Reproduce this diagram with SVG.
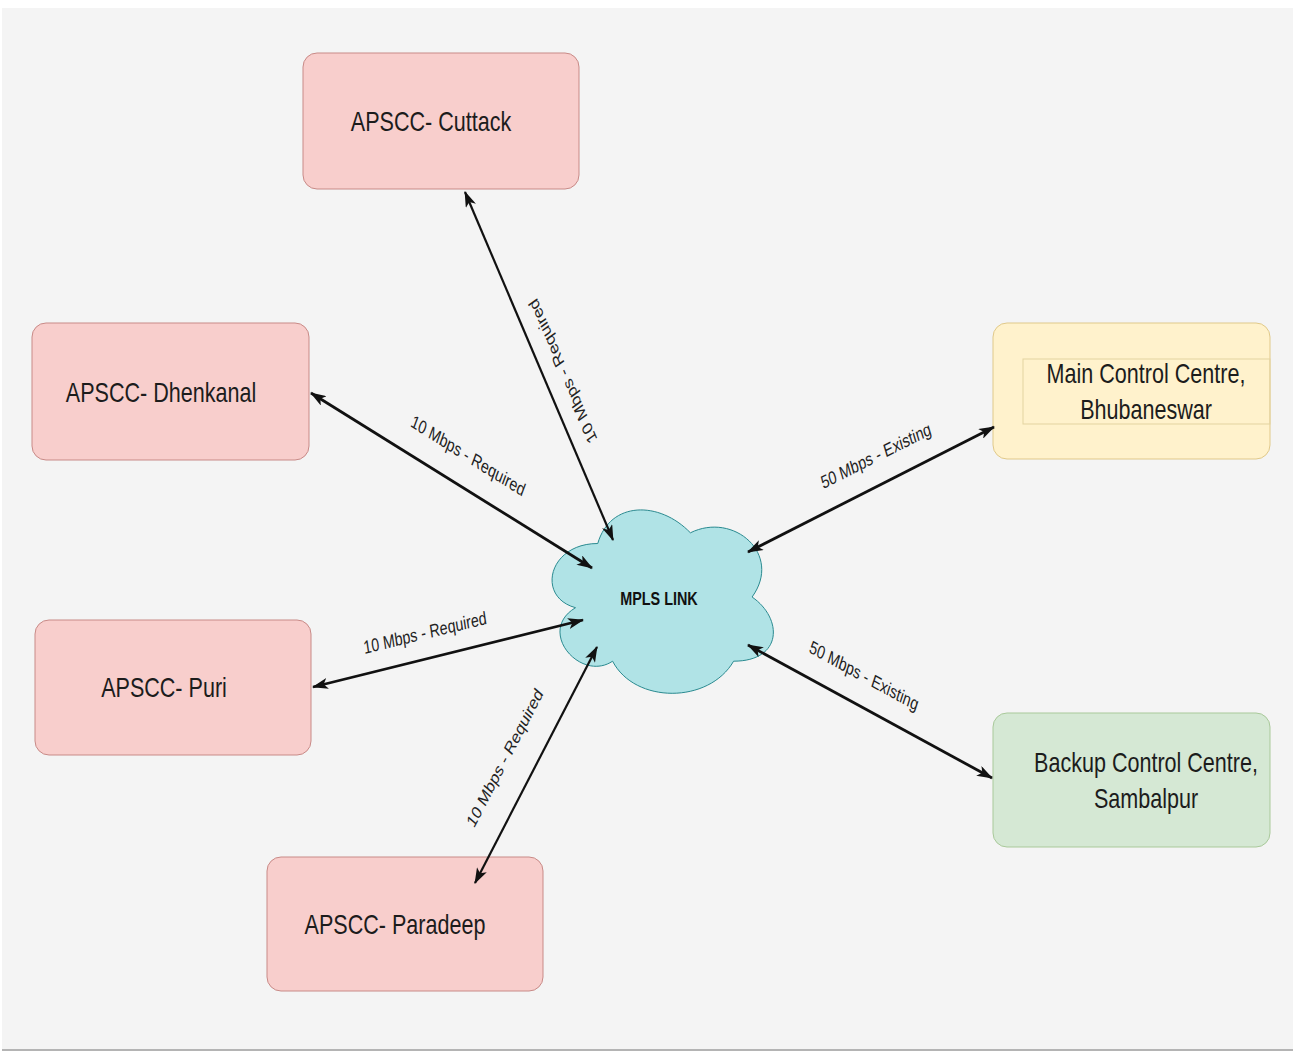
<svg xmlns="http://www.w3.org/2000/svg" width="1295" height="1052" viewBox="0 0 1295 1052">
<defs>
<style>
.box{stroke-width:1}
.red{fill:#f8cecc;stroke:#c88a87}
.yel{fill:#fff2cc;stroke:#e0c98a}
.grn{fill:#d5e8d4;stroke:#a9c99a}
.t{font-family:"Liberation Sans",Arial,sans-serif;font-size:28px;fill:#1c1c1c;text-anchor:middle}
.lbl{font-family:"Liberation Sans",Arial,sans-serif;font-size:18.5px;fill:#222;text-anchor:middle}
.cl{font-family:"Liberation Sans",Arial,sans-serif;font-size:18px;font-weight:bold;fill:#111;text-anchor:middle}
.edge{stroke:#111;stroke-width:2.8;fill:none;marker-start:url(#ah);marker-end:url(#ah)}
</style>
<marker id="ah" viewBox="0 0 16 11" refX="15" refY="5.5" markerWidth="16" markerHeight="11" markerUnits="userSpaceOnUse" orient="auto-start-reverse">
<path d="M16,5.5 L0,0 L4,5.5 L0,11 Z" fill="#111"/>
</marker>
</defs>
<rect x="0" y="0" width="1295" height="1052" fill="#ffffff"/>
<rect x="2" y="8" width="1291" height="1041" fill="#f4f4f4"/>
<rect x="2" y="1049" width="1291" height="2" fill="#b4b4b4"/>

<g id="mpls">
<path d="M597.75,543.5 C548.35,543.5 536,597 575.5,607.7 C536,631.2 580.5,682.6 612.6,661.2 C634.8,704 708.9,704 733.6,661.2 C783,661.2 783,618.4 752.1,597 C783,554.2 733.6,511.4 690.4,532.8 C659.5,500.7 610.1,500.7 597.75,543.5 Z" fill="#b0e3e6" stroke="#2a8a90" stroke-width="1"/>
<text class="cl" transform="translate(659,605) scale(0.8,1)">MPLS LINK</text>
</g>

<g id="cuttack">
<rect class="box red" x="303" y="53" width="276" height="136" rx="14"/>
<text class="t" transform="translate(431,131) scale(0.77,1)">APSCC- Cuttack</text>
</g>
<g id="dhenkanal">
<rect class="box red" x="32" y="323" width="277" height="137" rx="14"/>
<text class="t" transform="translate(161,402) scale(0.77,1)">APSCC- Dhenkanal</text>
</g>
<g id="puri">
<rect class="box red" x="35" y="620" width="276" height="135" rx="14"/>
<text class="t" transform="translate(164,697) scale(0.77,1)">APSCC- Puri</text>
</g>
<g id="paradeep">
<rect class="box red" x="267" y="857" width="276" height="134" rx="14"/>
<text class="t" transform="translate(395,934) scale(0.77,1)">APSCC- Paradeep</text>
</g>
<g id="main">
<rect class="box yel" x="993" y="323" width="277" height="136" rx="14"/>
<rect x="1023" y="359" width="247" height="65" fill="none" stroke="#e3d3a0" stroke-width="1"/>
<text class="t" transform="translate(1146,383) scale(0.77,1)">Main Control Centre,</text>
<text class="t" transform="translate(1146,419) scale(0.77,1)">Bhubaneswar</text>
</g>
<g id="backup">
<rect class="box grn" x="993" y="713" width="277" height="134" rx="14"/>
<text class="t" transform="translate(1146,772) scale(0.77,1)">Backup Control Centre,</text>
<text class="t" transform="translate(1146,808) scale(0.77,1)">Sambalpur</text>
</g>

<g id="connectors">
<line class="edge" x1="465" y1="192" x2="613" y2="540" style="stroke-width:2.2"/>
<line class="edge" x1="311" y1="393" x2="592" y2="568"/>
<line class="edge" x1="313" y1="687" x2="583" y2="620"/>
<line class="edge" x1="475" y1="883" x2="597" y2="647" style="stroke-width:2.2"/>
<line class="edge" x1="748" y1="552" x2="994" y2="427"/>
<line class="edge" x1="748" y1="645" x2="992" y2="778"/>
<text class="lbl" transform="translate(563,371) scale(0.77,1) rotate(240.9)" y="6">10 Mbps - Required</text>
<text class="lbl" transform="translate(468,456) scale(0.77,1) rotate(25.8)" y="6">10 Mbps - Required</text>
<text class="lbl" transform="translate(425,633) scale(0.77,1) rotate(-10.7)" y="6">10 Mbps - Required</text>
<text class="lbl" transform="translate(505,758) scale(0.77,1) rotate(-56.1)" y="6">10 Mbps - Required</text>
<text class="lbl" transform="translate(876,456) scale(0.77,1) rotate(-21.3)" y="6">50 Mbps - Existing</text>
<text class="lbl" transform="translate(864,676) scale(0.77,1) rotate(22.8)" y="6">50 Mbps - Existing</text>
</g>
</svg>
